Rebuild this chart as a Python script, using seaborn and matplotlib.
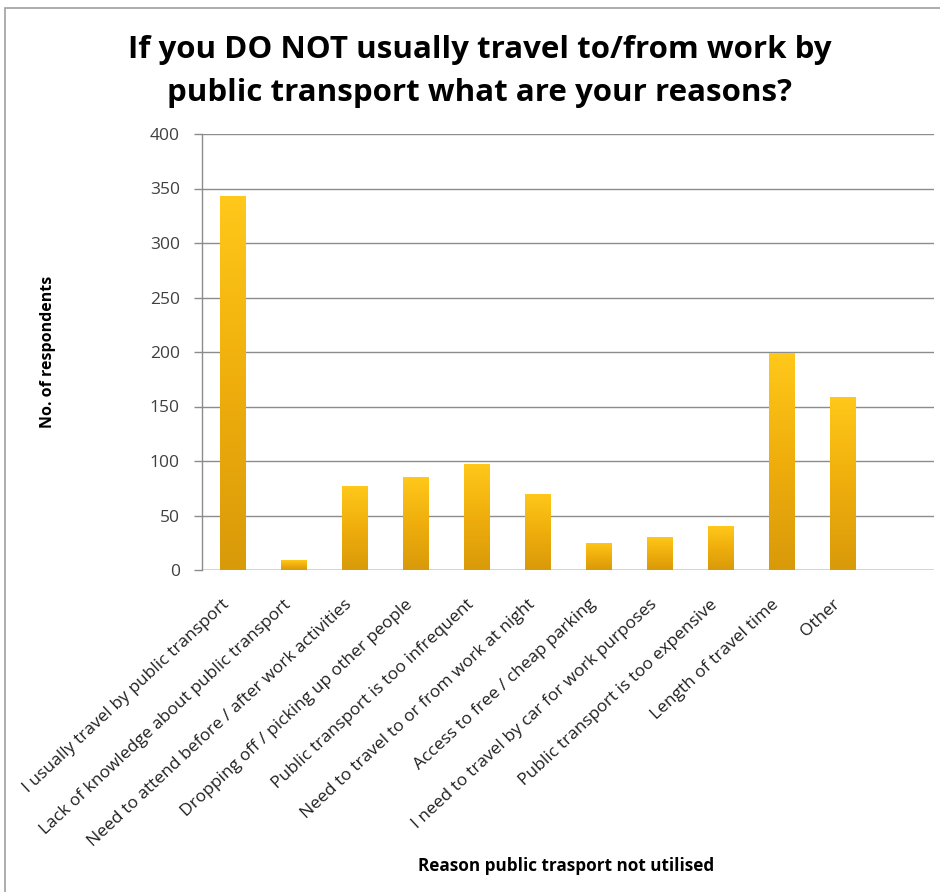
import numpy as np
import pandas as pd
import matplotlib
matplotlib.use("Agg")
import matplotlib.pyplot as plt
from matplotlib.patches import Rectangle
from matplotlib.colors import LinearSegmentedColormap
from matplotlib.transforms import ScaledTranslation
import seaborn as sns

reasons = [
    "I usually travel by public transport",
    "Lack of knowledge about public transport",
    "Need to attend before / after work activities",
    "Dropping off / picking up other people",
    "Public transport is too infrequent",
    "Need to travel to or from work at night",
    "Access to free / cheap parking",
    "I need to travel by car for work purposes",
    "Public transport is too expensive",
    "Length of travel time",
    "Other",
]
respondents = [343, 9, 77, 85, 97, 70, 25, 30, 40, 199, 159]
y_ticks = [0, 50, 100, 150, 200, 250, 300, 350, 400]

df = pd.DataFrame({"reason": reasons, "count": respondents})

sns.set_theme(style="white")
plt.rcParams["font.family"] = ["Open Sans", "DejaVu Sans"]

W, H = 940, 892
fig = plt.figure(figsize=(W / 100, H / 100), dpi=100)
ax = fig.add_axes([202 / W, 1 - 570 / H, 732 / W, 436 / H])

sns.barplot(data=df, x="reason", y="count", color="#F5B400", width=0.42,
            saturation=1, ax=ax, zorder=3)

# golden vertical gradient fill on each bar
grad = LinearSegmentedColormap.from_list(
    "gold", ["#D99A0A", "#EFAE0C", "#FFC81A"])
ramp = np.linspace(0, 1, 256).reshape(-1, 1)
for bar in ax.patches:
    x0, y0 = bar.get_x(), bar.get_y()
    w, h = bar.get_width(), bar.get_height()
    img = ax.imshow(ramp, cmap=grad, aspect="auto", origin="lower",
                    extent=(x0, x0 + w, y0, y0 + h), zorder=4)
    img.set_clip_path(bar)
    bar.set_edgecolor("none")

ax.set_xlim(-0.5, 11.5)
ax.set_ylim(0, 400)
ax.set_yticks(y_ticks)
ax.yaxis.grid(True, color="#8C8C8C", linewidth=1.0, zorder=0)
ax.set_axisbelow(True)
for side in ["top", "right", "bottom"]:
    ax.spines[side].set_visible(False)
ax.spines["left"].set_color("#8C8C8C")
ax.spines["left"].set_linewidth(1.0)
ax.axhline(0, color="#8C8C8C", linewidth=1.0, zorder=2)

ax.tick_params(axis="y", left=True, length=6, width=1.0, color="#8C8C8C",
               labelsize=12.5, labelcolor="#404040", pad=10)
ax.tick_params(axis="x", bottom=False, labelsize=12.5, labelcolor="#202020", pad=0)
ax.set_xticks(range(len(reasons)))
ax.set_xticklabels(reasons, rotation=43, ha="right", va="center",
                   rotation_mode="anchor")
shift = ScaledTranslation(-5 / 100, -24 / 100, fig.dpi_scale_trans)
for lbl in ax.get_xticklabels():
    lbl.set_transform(lbl.get_transform() + shift)

ax.set_xlabel("")
ax.set_ylabel("")
fig.text(48 / W, 1 - 352 / H, "No. of respondents", rotation=90,
         ha="center", va="center", fontsize=11.5, fontweight="bold", color="#000000")
fig.text(566 / W, 1 - 866 / H, "Reason public trasport not utilised",
         ha="center", va="center", fontsize=12.3, fontweight="bold", color="#000000")

fig.text(480 / W, 1 - 50 / H, "If you DO NOT usually travel to/from work by",
         ha="center", va="center", fontsize=22.5, fontweight="bold", color="#000000")
fig.text(480 / W, 1 - 93 / H, "public transport what are your reasons?",
         ha="center", va="center", fontsize=22.5, fontweight="bold", color="#000000")

# chart frame
fig.patches.append(Rectangle((5 / W, -0.01), 1.0, 1 - 8 / H + 0.01,
                             transform=fig.transFigure, fill=False,
                             edgecolor="#A0A0A0", linewidth=1.2))

fig.savefig("out.png", dpi=100)
